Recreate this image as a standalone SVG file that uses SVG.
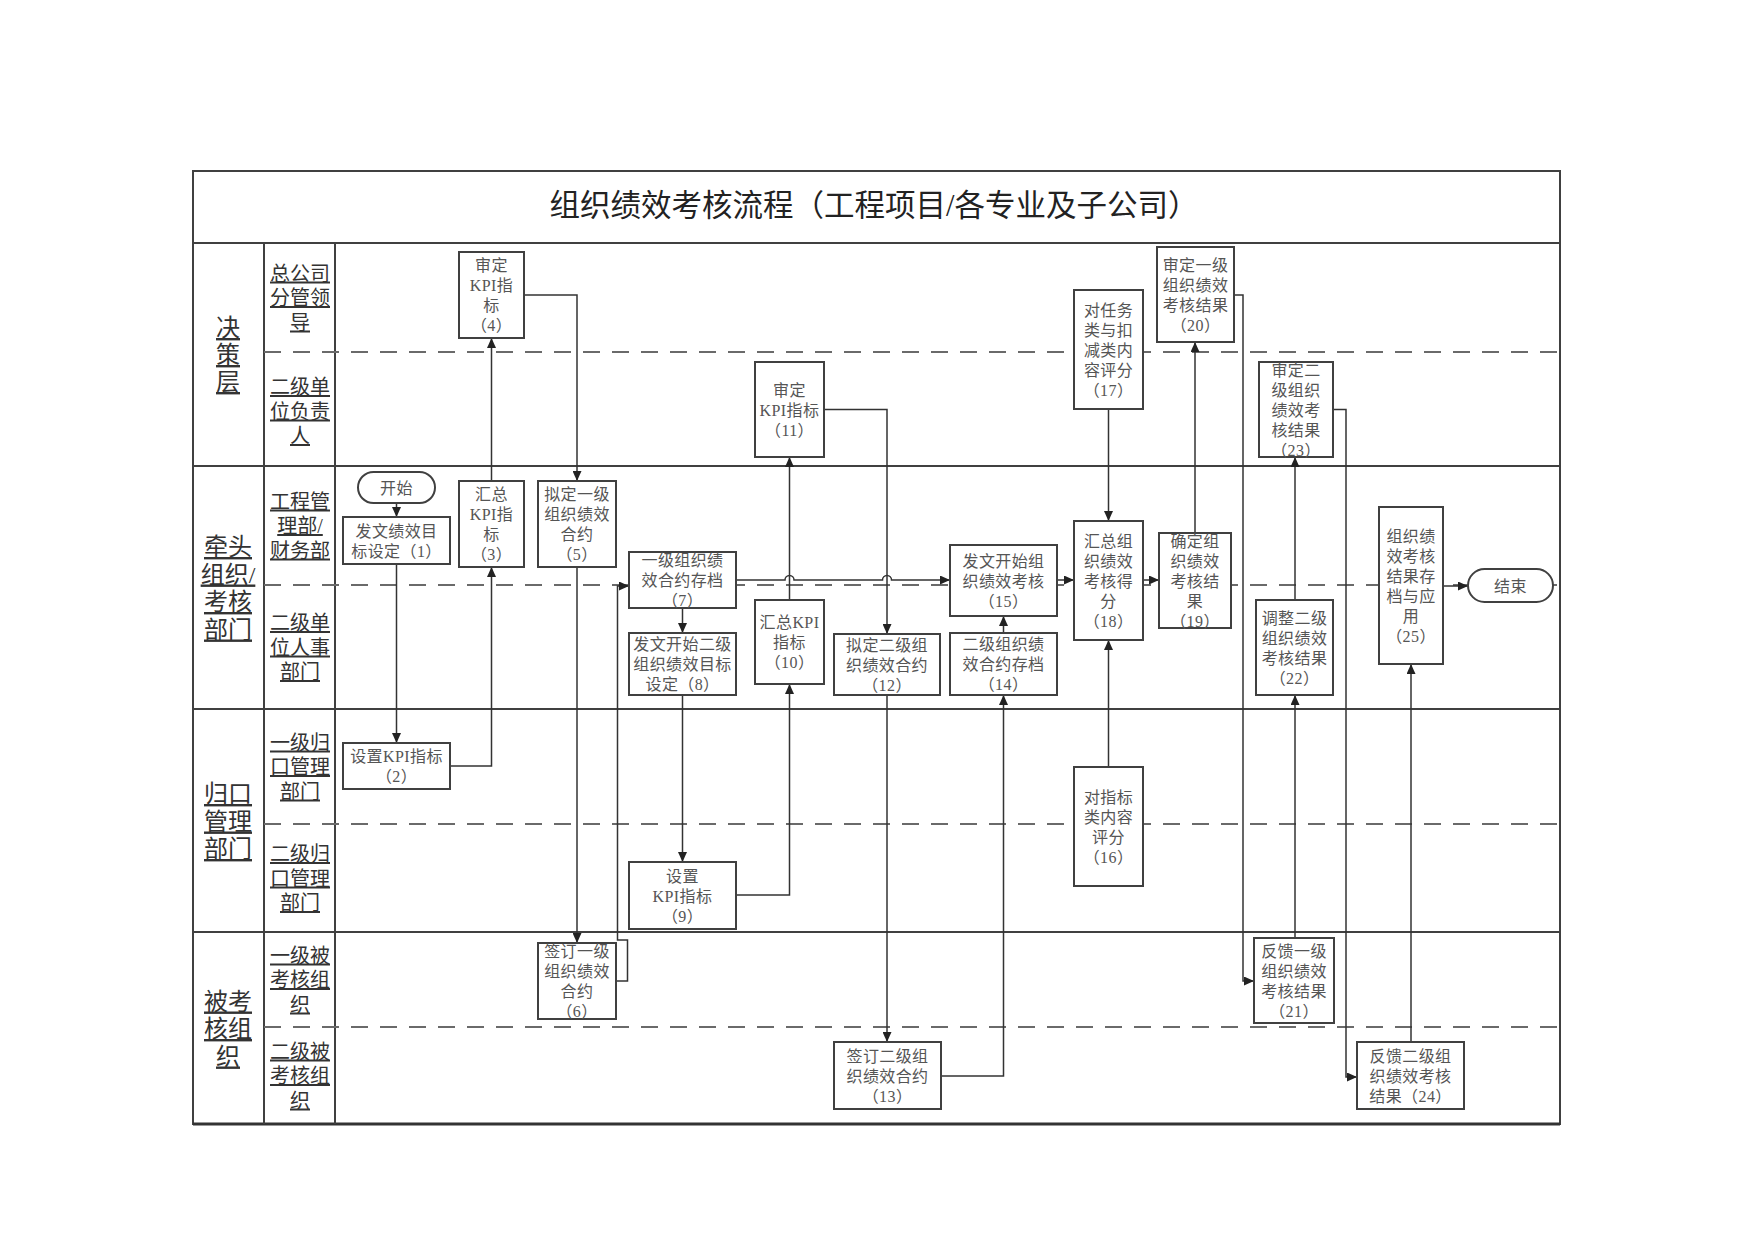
<svg xmlns="http://www.w3.org/2000/svg" width="1753" height="1240" viewBox="0 0 1753 1240">
<defs>
<style>
.ln{fill:none;stroke:#404040;stroke-width:2}
.dash{fill:none;stroke:#6a6a6a;stroke-width:2;stroke-dasharray:17 12}
.box{fill:#fff;stroke:#404040;stroke-width:2}
.bt{font-family:"Liberation Serif","Noto Sans CJK SC",serif;font-size:16px;letter-spacing:0.4px;fill:#555;text-anchor:middle}
.lane{font-family:"Liberation Serif","Noto Sans CJK SC",serif;font-size:20px;fill:#333;text-anchor:middle;text-decoration:underline}
.sec{font-family:"Liberation Serif","Noto Sans CJK SC",serif;font-size:24px;fill:#333;text-anchor:middle;text-decoration:underline}
.title{font-family:"Liberation Serif","Noto Sans CJK SC",serif;font-size:30.5px;fill:#222;text-anchor:middle}
.c{fill:none;stroke:#333;stroke-width:1.5;marker-end:url(#ah)}
</style>
<marker id="ah" markerUnits="userSpaceOnUse" markerWidth="11" markerHeight="9" refX="10" refY="4.5" orient="auto">
<path d="M0,0 L10,4.5 L0,9 z" fill="#222"/>
</marker>
</defs>
<rect width="1753" height="1240" fill="#fff"/>

<g id="frame">
<rect x="193" y="171" width="1367" height="953" class="ln"/>
<line x1="193" y1="1124" x2="1560" y2="1124" stroke="#333" stroke-width="3"/>
<line x1="193" y1="243" x2="1560" y2="243" class="ln"/>
<line x1="264" y1="243" x2="264" y2="1124" class="ln"/>
<line x1="335" y1="243" x2="335" y2="1124" class="ln"/>
<line x1="193" y1="466" x2="1560" y2="466" class="ln"/>
<line x1="193" y1="709" x2="1560" y2="709" class="ln"/>
<line x1="193" y1="932" x2="1560" y2="932" class="ln"/>
<line x1="264" y1="352" x2="1560" y2="352" class="dash"/>
<line x1="264" y1="585" x2="1560" y2="585" class="dash"/>
<line x1="264" y1="824" x2="1560" y2="824" class="dash"/>
<line x1="264" y1="1027" x2="1560" y2="1027" class="dash"/>
<text class="title" x="874" y="216">组织绩效考核流程（工程项目/各专业及子公司）</text>
</g>

<g id="lanes">
<text class="sec"><tspan x="228" y="336">决</tspan><tspan x="228" y="363">策</tspan><tspan x="228" y="390">层</tspan></text>
<text class="sec"><tspan x="228" y="555">牵头</tspan><tspan x="228" y="582.5">组织/</tspan><tspan x="228" y="610">考核</tspan><tspan x="228" y="637.5">部门</tspan></text>
<text class="sec"><tspan x="228" y="802">归口</tspan><tspan x="228" y="829.5">管理</tspan><tspan x="228" y="857">部门</tspan></text>
<text class="sec"><tspan x="228" y="1009.5">被考</tspan><tspan x="228" y="1037">核组</tspan><tspan x="228" y="1064.5">织</tspan></text>

<text class="lane"><tspan x="300" y="280.5">总公司</tspan><tspan x="300" y="305">分管领</tspan><tspan x="300" y="329.5">导</tspan></text>
<text class="lane"><tspan x="300" y="394">二级单</tspan><tspan x="300" y="418.5">位负责</tspan><tspan x="300" y="443">人</tspan></text>
<text class="lane"><tspan x="300" y="508.5">工程管</tspan><tspan x="300" y="533">理部/</tspan><tspan x="300" y="557.5">财务部</tspan></text>
<text class="lane"><tspan x="300" y="630">二级单</tspan><tspan x="300" y="654.5">位人事</tspan><tspan x="300" y="679">部门</tspan></text>
<text class="lane"><tspan x="300" y="749.5">一级归</tspan><tspan x="300" y="774">口管理</tspan><tspan x="300" y="798.5">部门</tspan></text>
<text class="lane"><tspan x="300" y="861">二级归</tspan><tspan x="300" y="885.5">口管理</tspan><tspan x="300" y="910">部门</tspan></text>
<text class="lane"><tspan x="300" y="962.5">一级被</tspan><tspan x="300" y="987">考核组</tspan><tspan x="300" y="1011.5">织</tspan></text>
<text class="lane"><tspan x="300" y="1058.5">二级被</tspan><tspan x="300" y="1083">考核组</tspan><tspan x="300" y="1107.5">织</tspan></text>
</g>

<g id="connectors">
<path class="c" d="M396.5,503 V517"/>
<path class="c" d="M396.5,564 V743"/>
<path class="c" d="M450,766 H491.5 V567"/>
<path class="c" d="M491.5,481 V338"/>
<path class="c" d="M524,295 H577 V481"/>
<path class="c" d="M577,567 V943"/>
<path class="c" d="M616,981 H627.5 V940 H617.5 V586 H629"/>
<path class="c" d="M682.5,608 V633"/>
<path class="c" d="M682.5,695 V862"/>
<path class="c" d="M736,895 H789.5 V684"/>
<path class="c" d="M789.5,600 V457"/>
<path class="c" d="M824,409.5 H887 V634"/>
<path class="c" d="M887,695 V1042"/>
<path class="c" d="M941,1076 H1003.5 V695"/>
<path class="c" d="M1003.5,633 V616"/>
<path class="c" d="M736,580 H785 A4.5,4.5 0 0 1 794,580 H882.5 A4.5,4.5 0 0 1 891.5,580 H950"/>
<path class="c" d="M1057,580 H1074"/>
<path class="c" d="M1108.5,409 V521"/>
<path class="c" d="M1108.5,767 V640"/>
<path class="c" d="M1143,580 H1159"/>
<path class="c" d="M1195,533 V342"/>
<path class="c" d="M1234,295 H1243 V981 H1254"/>
<path class="c" d="M1295,938 V695"/>
<path class="c" d="M1295,600 V457"/>
<path class="c" d="M1333,409.5 H1346 V1077 H1357"/>
<path class="c" d="M1411,1042 V664"/>
<path class="c" d="M1443,586 H1468"/>
</g>

<g id="start"><rect class="box" x="358" y="472" width="77" height="31" rx="15.5"/><text class="bt" x="396.5" y="494">开始</text></g>
<g id="n1"><rect class="box" x="343" y="517" width="107" height="47"/><text class="bt"><tspan x="396.5" y="536.5">发文绩效目</tspan><tspan x="396.5" y="556.5">标设定（1）</tspan></text></g>
<g id="n2"><rect class="box" x="343" y="743" width="107" height="46"/><text class="bt"><tspan x="396.5" y="762">设置KPI指标</tspan><tspan x="396.5" y="782">（2）</tspan></text></g>
<g id="n3"><rect class="box" x="459" y="481" width="65" height="86"/><text class="bt"><tspan x="491.5" y="500">汇总</tspan><tspan x="491.5" y="520">KPI指</tspan><tspan x="491.5" y="540">标</tspan><tspan x="491.5" y="560">（3）</tspan></text></g>
<g id="n4"><rect class="box" x="459" y="252" width="65" height="86"/><text class="bt"><tspan x="491.5" y="271">审定</tspan><tspan x="491.5" y="291">KPI指</tspan><tspan x="491.5" y="311">标</tspan><tspan x="491.5" y="331">（4）</tspan></text></g>
<g id="n5"><rect class="box" x="538" y="481" width="78" height="86"/><text class="bt"><tspan x="577" y="500">拟定一级</tspan><tspan x="577" y="520">组织绩效</tspan><tspan x="577" y="540">合约</tspan><tspan x="577" y="560">（5）</tspan></text></g>
<g id="n6"><rect class="box" x="538" y="943" width="78" height="76"/><text class="bt"><tspan x="577" y="957">签订一级</tspan><tspan x="577" y="977">组织绩效</tspan><tspan x="577" y="997">合约</tspan><tspan x="577" y="1017">（6）</tspan></text></g>
<g id="n7"><rect class="box" x="629" y="552" width="107" height="56"/><text class="bt"><tspan x="682.5" y="566">一级组织绩</tspan><tspan x="682.5" y="586">效合约存档</tspan><tspan x="682.5" y="606">（7）</tspan></text></g>
<g id="n8"><rect class="box" x="629" y="633" width="107" height="62"/><text class="bt"><tspan x="682.5" y="650">发文开始二级</tspan><tspan x="682.5" y="670">组织绩效目标</tspan><tspan x="682.5" y="690">设定（8）</tspan></text></g>
<g id="n9"><rect class="box" x="629" y="862" width="107" height="67"/><text class="bt"><tspan x="682.5" y="881.5">设置</tspan><tspan x="682.5" y="901.5">KPI指标</tspan><tspan x="682.5" y="921.5">（9）</tspan></text></g>
<g id="n10"><rect class="box" x="755" y="600" width="69" height="84"/><text class="bt"><tspan x="789.5" y="628">汇总KPI</tspan><tspan x="789.5" y="648">指标</tspan><tspan x="789.5" y="668">（10）</tspan></text></g>
<g id="n11"><rect class="box" x="755" y="362" width="69" height="95"/><text class="bt"><tspan x="789.5" y="395.5">审定</tspan><tspan x="789.5" y="415.5">KPI指标</tspan><tspan x="789.5" y="435.5">（11）</tspan></text></g>
<g id="n12"><rect class="box" x="834" y="634" width="106" height="61"/><text class="bt"><tspan x="887" y="650.5">拟定二级组</tspan><tspan x="887" y="670.5">织绩效合约</tspan><tspan x="887" y="690.5">（12）</tspan></text></g>
<g id="n13"><rect class="box" x="834" y="1042" width="107" height="67"/><text class="bt"><tspan x="887.5" y="1061.5">签订二级组</tspan><tspan x="887.5" y="1081.5">织绩效合约</tspan><tspan x="887.5" y="1101.5">（13）</tspan></text></g>
<g id="n14"><rect class="box" x="950" y="633" width="107" height="62"/><text class="bt"><tspan x="1003.5" y="650">二级组织绩</tspan><tspan x="1003.5" y="670">效合约存档</tspan><tspan x="1003.5" y="690">（14）</tspan></text></g>
<g id="n15"><rect class="box" x="950" y="545" width="107" height="71"/><text class="bt"><tspan x="1003.5" y="566.5">发文开始组</tspan><tspan x="1003.5" y="586.5">织绩效考核</tspan><tspan x="1003.5" y="606.5">（15）</tspan></text></g>
<g id="n16"><rect class="box" x="1074" y="767" width="69" height="119"/><text class="bt"><tspan x="1108.5" y="802.5">对指标</tspan><tspan x="1108.5" y="822.5">类内容</tspan><tspan x="1108.5" y="842.5">评分</tspan><tspan x="1108.5" y="862.5">（16）</tspan></text></g>
<g id="n17"><rect class="box" x="1074" y="290" width="69" height="119"/><text class="bt"><tspan x="1108.5" y="315.5">对任务</tspan><tspan x="1108.5" y="335.5">类与扣</tspan><tspan x="1108.5" y="355.5">减类内</tspan><tspan x="1108.5" y="375.5">容评分</tspan><tspan x="1108.5" y="395.5">（17）</tspan></text></g>
<g id="n18"><rect class="box" x="1074" y="521" width="69" height="119"/><text class="bt"><tspan x="1108.5" y="546.5">汇总组</tspan><tspan x="1108.5" y="566.5">织绩效</tspan><tspan x="1108.5" y="586.5">考核得</tspan><tspan x="1108.5" y="606.5">分</tspan><tspan x="1108.5" y="626.5">（18）</tspan></text></g>
<g id="n19"><rect class="box" x="1159" y="533" width="72" height="95"/><text class="bt"><tspan x="1195" y="546.5">确定组</tspan><tspan x="1195" y="566.5">织绩效</tspan><tspan x="1195" y="586.5">考核结</tspan><tspan x="1195" y="606.5">果</tspan><tspan x="1195" y="626.5">（19）</tspan></text></g>
<g id="n20"><rect class="box" x="1157" y="247" width="77" height="95"/><text class="bt"><tspan x="1195.5" y="270.5">审定一级</tspan><tspan x="1195.5" y="290.5">组织绩效</tspan><tspan x="1195.5" y="310.5">考核结果</tspan><tspan x="1195.5" y="330.5">（20）</tspan></text></g>
<g id="n21"><rect class="box" x="1254" y="938" width="80" height="85"/><text class="bt"><tspan x="1294" y="956.5">反馈一级</tspan><tspan x="1294" y="976.5">组织绩效</tspan><tspan x="1294" y="996.5">考核结果</tspan><tspan x="1294" y="1016.5">（21）</tspan></text></g>
<g id="n22"><rect class="box" x="1256" y="600" width="77" height="95"/><text class="bt"><tspan x="1294.5" y="623.5">调整二级</tspan><tspan x="1294.5" y="643.5">组织绩效</tspan><tspan x="1294.5" y="663.5">考核结果</tspan><tspan x="1294.5" y="683.5">（22）</tspan></text></g>
<g id="n23"><rect class="box" x="1259" y="362" width="74" height="95"/><text class="bt"><tspan x="1296" y="375.5">审定二</tspan><tspan x="1296" y="395.5">级组织</tspan><tspan x="1296" y="415.5">绩效考</tspan><tspan x="1296" y="435.5">核结果</tspan><tspan x="1296" y="455.5">（23）</tspan></text></g>
<g id="n24"><rect class="box" x="1357" y="1042" width="107" height="67"/><text class="bt"><tspan x="1410.5" y="1061.5">反馈二级组</tspan><tspan x="1410.5" y="1081.5">织绩效考核</tspan><tspan x="1410.5" y="1101.5">结果（24）</tspan></text></g>
<g id="n25"><rect class="box" x="1379" y="507" width="64" height="157"/><text class="bt"><tspan x="1411" y="541.5">组织绩</tspan><tspan x="1411" y="561.5">效考核</tspan><tspan x="1411" y="581.5">结果存</tspan><tspan x="1411" y="601.5">档与应</tspan><tspan x="1411" y="621.5">用</tspan><tspan x="1411" y="641.5">（25）</tspan></text></g>
<g id="end"><rect class="box" x="1468" y="569" width="85" height="33" rx="16.5"/><text class="bt" x="1510.5" y="591.5">结束</text></g>
</svg>
